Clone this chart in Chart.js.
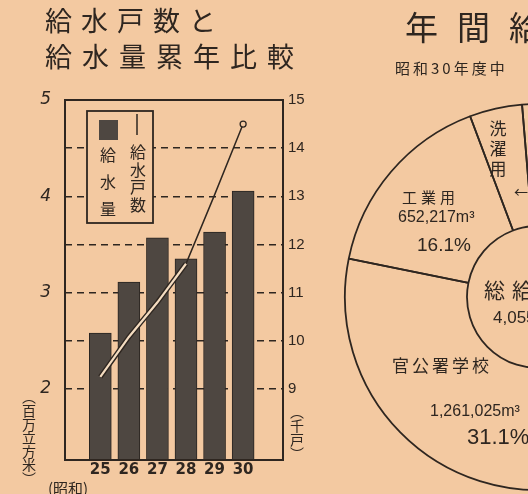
<!DOCTYPE html>
<html lang="ja">
<head>
<meta charset="utf-8">
<script src="https://cdn.jsdelivr.net/npm/chart.js@4.4.1/dist/chart.umd.min.js"></script>
<style>
  html, body { margin: 0; padding: 0; width: 528px; height: 494px; overflow: hidden; background: #f3c9a1; }
  #wrap { position: relative; width: 528px; height: 494px; overflow: hidden; }
  #barChart { position: absolute; left: 0; top: 0; }
  #pieChart { position: absolute; left: 330px; top: 0; }
</style>
</head>
<body>
<div id="wrap">
  <canvas id="barChart" width="330" height="494"></canvas>
  <canvas id="pieChart" width="416" height="494"></canvas>
</div>
<script>
// 年度（昭和）
const years = [25, 26, 27, 28, 29, 30];
// 給水量（百万立方米）
const waterVolume = [2.58, 3.11, 3.57, 3.35, 3.63, 4.055];
// 給水戸数（千戸）
const households = [9.25, 10.08, 10.8, 11.6, 13.03, 14.5];
const leftTicks = [2, 3, 4, 5];
const rightTicks = [9, 10, 11, 12, 13, 14, 15];

// 昭和30年度 用途別 年間給水量
const useLabels = ['官公署学校', '工業用', '洗濯用', 'その他'];
const usePercent = [31.1, 16.1, 4.4, 48.4];
const useVolume = ['1,261,025', '652,217', '', ''];

const ink = '#2e2620';
const paper = '#f3c9a1';
const barColor = '#4e4741';
const JP = '"Noto Sans CJK JP", sans-serif';

// 文字を1字ずつ並べる（字間つき）
function spaced(ctx, text, x, y, gap) {
    ctx.textAlign = 'left';
    for (const ch of text) {
        ctx.fillText(ch, x, y);
        x += ctx.measureText(ch).width + gap;
    }
}

// 縦書き
function vertical(ctx, text, x, y, step) {
    ctx.textAlign = 'center';
    for (const ch of text) {
        ctx.fillText(ch, x, y);
        y += step;
    }
}

const barDecor = {
    id: 'barDecor',
    afterDatasetDraw(chart, args) {
        // 給水戸数の線：下の方は白抜きの二重線
        if (args.index !== 0) return;
        const pts = args.meta.data;
        const ctx = chart.ctx;
        ctx.save();
        ctx.lineCap = 'butt';
        ctx.beginPath();
        ctx.moveTo(pts[0].x, pts[0].y);
        for (let i = 1; i <= 3; i++) ctx.lineTo(pts[i].x, pts[i].y);
        ctx.strokeStyle = ink;
        ctx.lineWidth = 5;
        ctx.stroke();
        ctx.strokeStyle = '#f4dcc0';
        ctx.lineWidth = 2.2;
        ctx.stroke();
        ctx.restore();
    },
    afterDraw(chart) {
        const ctx = chart.ctx;
        const ca = chart.chartArea;
        ctx.save();
        ctx.fillStyle = ink;
        ctx.strokeStyle = ink;
        ctx.textBaseline = 'middle';

        // タイトル
        ctx.font = '27px ' + JP;
        spaced(ctx, '給水戸数と', 45, 21, 9);
        spaced(ctx, '給水量累年比較', 45, 57, 10);

        // 枠
        ctx.lineWidth = 2;
        ctx.strokeRect(ca.left, ca.top, ca.right - ca.left, ca.bottom - ca.top);

        // 凡例
        const lx = ca.left + 22, ly = ca.top + 11;
        ctx.fillStyle = paper;
        ctx.fillRect(lx, ly, 66, 112);
        ctx.lineWidth = 1.8;
        ctx.strokeRect(lx, ly, 66, 112);
        ctx.fillStyle = barColor;
        ctx.fillRect(lx + 12, ly + 9, 19, 20);
        ctx.fillStyle = ink;
        ctx.font = '16px ' + JP;
        vertical(ctx, chart.data.datasets[1].label, lx + 21, ly + 44, 27);
        ctx.lineWidth = 1.5;
        ctx.beginPath();
        ctx.moveTo(lx + 50, ly + 3);
        ctx.lineTo(lx + 50, ly + 24);
        ctx.stroke();
        vertical(ctx, chart.data.datasets[0].label, lx + 51, ly + 41, 17.7);

        // 単位
        ctx.font = '14px ' + JP;
        vertical(ctx, '︵百万立方米︶', 29, 397, 13.6);
        vertical(ctx, '︵千戸︶', 297, 412, 14);
        ctx.font = '15px ' + JP;
        ctx.textAlign = 'center';
        ctx.fillText('(昭和)', 68, 488);
        ctx.restore();
    }
};

new Chart(document.getElementById('barChart'), {
    type: 'bar',
    data: {
        datasets: [{
            type: 'line',
            label: '給水戸数',
            data: years.map((y, i) => ({ x: y, y: households[i] })),
            yAxisID: 'y2',
            order: 1,
            borderColor: ink,
            borderWidth: 1.5,
            tension: 0,
            pointRadius: ctx => ctx.dataIndex === years.length - 1 ? 3 : 0,
            pointBackgroundColor: paper,
            pointBorderColor: ink,
            pointBorderWidth: 1.3
        }, {
            type: 'bar',
            label: '給水量',
            data: years.map((y, i) => ({ x: y, y: waterVolume[i] })),
            yAxisID: 'y',
            order: 2,
            backgroundColor: barColor,
            borderColor: '#2a2420',
            borderWidth: 1,
            barThickness: 22
        }]
    },
    options: {
        responsive: false,
        animation: false,
        layout: { padding: { top: 100, left: 0, right: 0, bottom: 0 } },
        plugins: { legend: { display: false }, tooltip: { enabled: false } },
        scales: {
            x: {
                type: 'linear',
                min: 24.4,
                max: 30.76,
                grid: { display: false, drawTicks: false },
                border: { display: false },
                afterBuildTicks: s => { s.ticks = years.map(v => ({ value: v })); },
                afterFit: s => { s.height = 34; },
                ticks: {
                    color: ink,
                    padding: 1,
                    maxRotation: 0,
                    autoSkip: false,
                    font: { family: '"DejaVu Sans"', size: 15, weight: 'bold' },
                    callback: v => String(v)
                }
            },
            y: {
                position: 'left',
                min: 1.263,
                max: 5,
                grid: { display: false },
                border: { display: false },
                afterBuildTicks: s => { s.ticks = leftTicks.map(v => ({ value: v })); },
                afterFit: s => { s.width = 65; },
                ticks: {
                    color: ink,
                    padding: 6,
                    font: { family: '"DejaVu Sans"', size: 17, style: 'italic' }
                }
            },
            y2: {
                position: 'right',
                min: 7.526,
                max: 15,
                grid: { color: ink, lineWidth: 1.4, drawTicks: false },
                border: { display: false, dash: [7, 5] },
                afterBuildTicks: s => { s.ticks = rightTicks.map(v => ({ value: v })); },
                afterFit: s => { s.width = 47; },
                ticks: {
                    color: ink,
                    padding: 5,
                    font: { family: '"Liberation Sans"', size: 15 }
                }
            }
        }
    },
    plugins: [barDecor]
});

const pieDecor = {
    id: 'pieDecor',
    afterDraw(chart) {
        const ctx = chart.ctx;
        const arcs = chart.getDatasetMeta(0).data;
        const cx = arcs[0].x, cy = arcs[0].y;
        ctx.save();
        ctx.fillStyle = ink;
        ctx.textBaseline = 'middle';

        // 見出し
        ctx.font = '33px ' + JP;
        spaced(ctx, '年間給水量', cx - 133, cy - 270, 19);
        ctx.font = '15px ' + JP;
        spaced(ctx, '昭和30年度中', cx - 143, cy - 229, 3);

        // 中心
        ctx.font = '21px ' + JP;
        spaced(ctx, '総給水量', cx - 54, cy - 7, 7);
        ctx.font = '17px "Liberation Sans"';
        ctx.textAlign = 'left';
        ctx.fillText('4,055', cx - 45, cy + 21);

        // 工業用
        ctx.font = '15px ' + JP;
        spaced(ctx, useLabels[1], cx - 136, cy - 100, 4);
        ctx.font = '16px "Liberation Sans"';
        ctx.textAlign = 'left';
        ctx.fillText(useVolume[1] + 'm³', cx - 140, cy - 79);
        ctx.font = '19px "Liberation Sans"';
        ctx.fillText(usePercent[1].toFixed(1) + '%', cx - 121, cy - 51);

        // 洗濯用
        ctx.font = '17px ' + JP;
        vertical(ctx, useLabels[2], cx - 40, cy - 168, 20);
        ctx.font = '14px ' + JP;
        ctx.textAlign = 'center';
        ctx.fillText('←', cx - 17, cy - 105);

        // 官公署学校
        ctx.font = '17px ' + JP;
        spaced(ctx, useLabels[0], cx - 146, cy + 69, 3);
        ctx.font = '16px "Liberation Sans"';
        ctx.textAlign = 'left';
        ctx.fillText(useVolume[0] + 'm³', cx - 108, cy + 115);
        ctx.font = '22px "Liberation Sans"';
        ctx.fillText(usePercent[0].toFixed(1) + '%', cx - 71, cy + 141);
        ctx.restore();
    }
};

new Chart(document.getElementById('pieChart'), {
    type: 'doughnut',
    data: {
        labels: useLabels,
        datasets: [{
            data: usePercent,
            backgroundColor: 'rgba(0,0,0,0)',
            borderColor: ink,
            borderWidth: 1.8,
            borderAlign: 'center'
        }]
    },
    options: {
        responsive: false,
        animation: false,
        rotation: 169.5,
        cutout: 71,
        layout: { padding: { left: 14, right: 14, top: 103, bottom: 3 } },
        plugins: { legend: { display: false }, tooltip: { enabled: false } }
    },
    plugins: [pieDecor]
});
</script>
</body>
</html>
